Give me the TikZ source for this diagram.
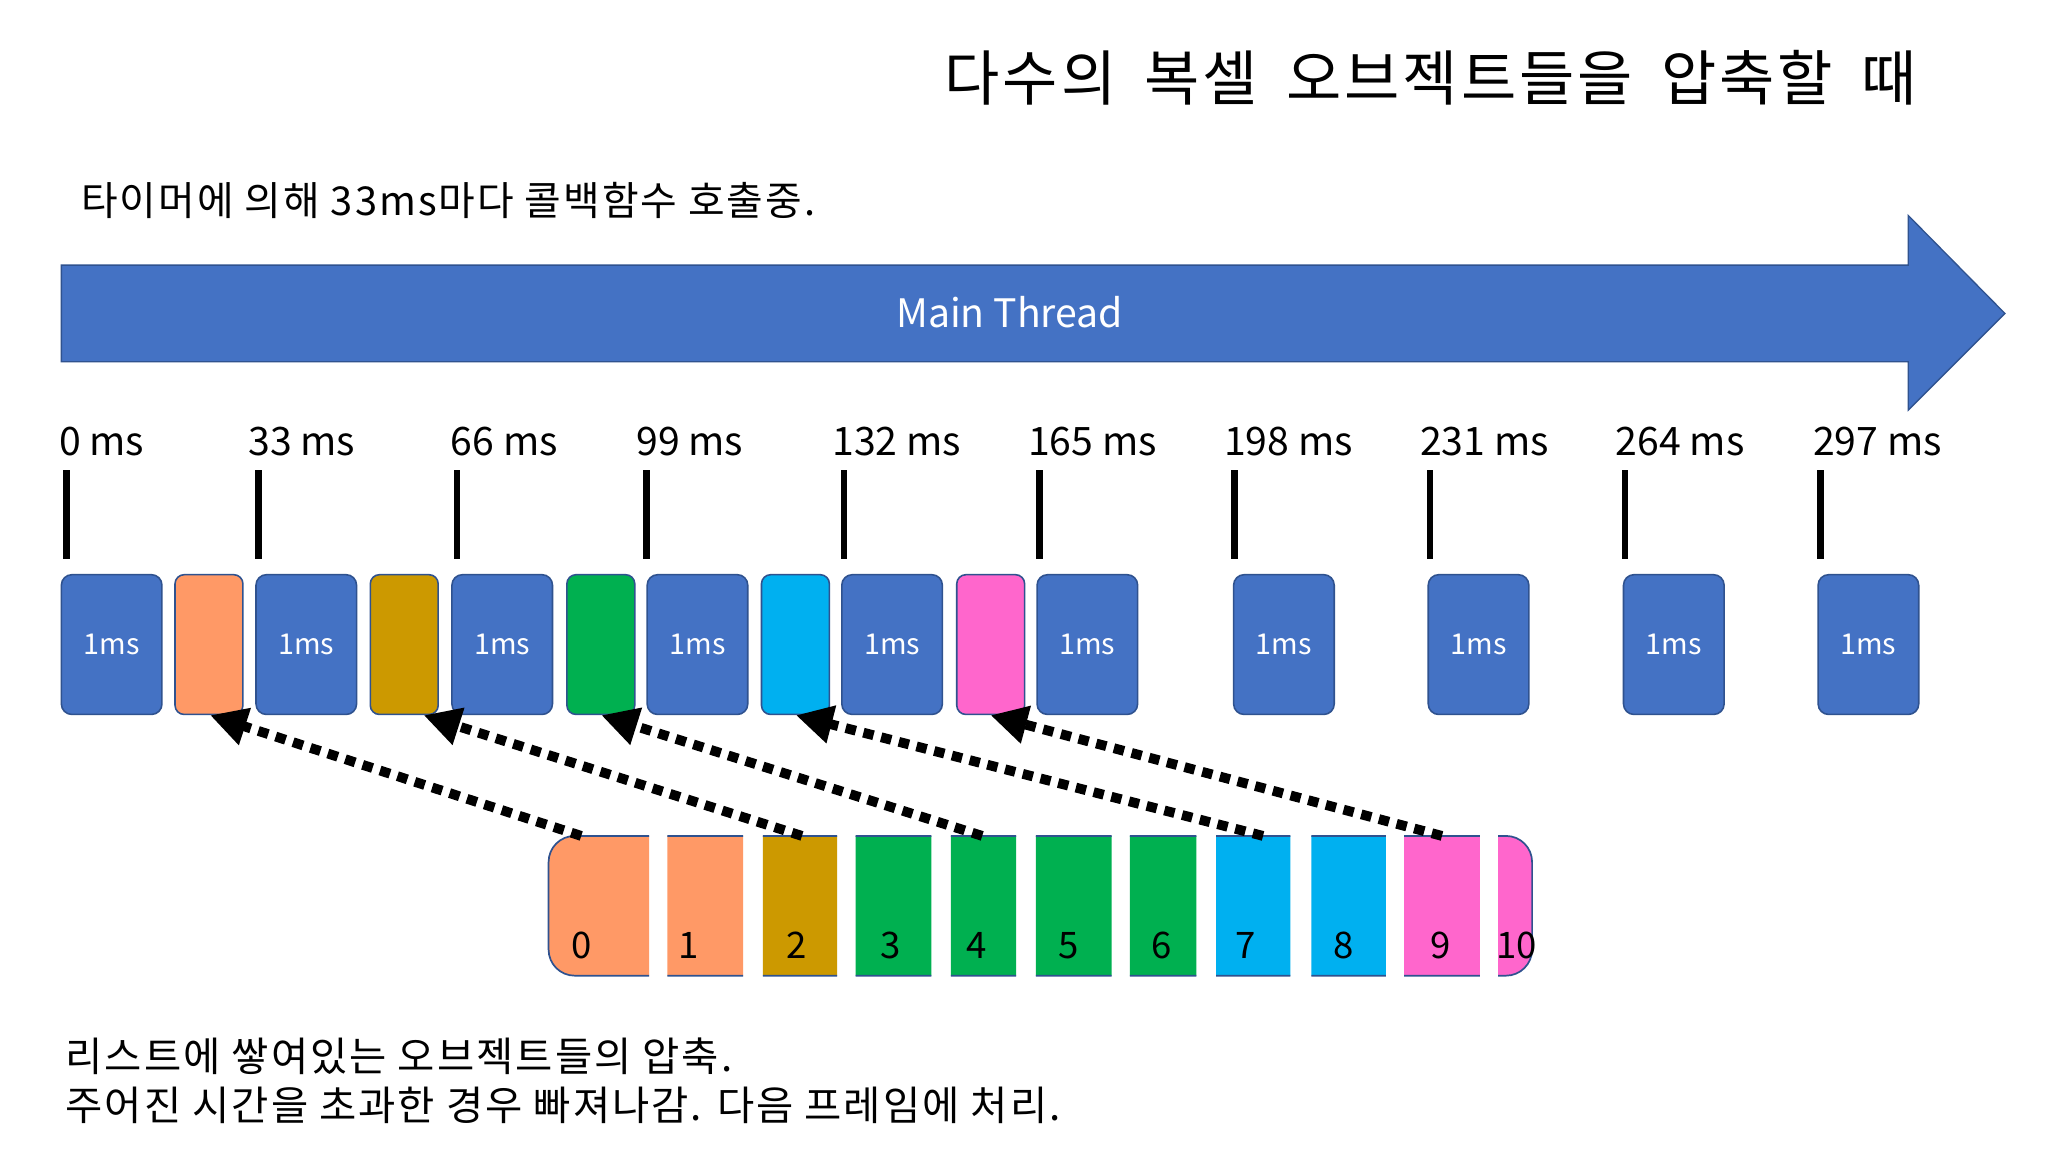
\documentclass[tikz,border=0pt]{standalone}
\usepackage{fontspec}
\setmainfont{Noto Sans CJK KR}
\newfontfamily\krwide[LetterSpace=5]{Noto Sans CJK KR}
\usetikzlibrary{arrows.meta,calc}
\definecolor{tblue}{HTML}{4472C4}
\definecolor{tborder}{HTML}{2F528F}
\definecolor{corange}{HTML}{FF9966}
\definecolor{cgold}{HTML}{CC9900}
\definecolor{cgreen}{HTML}{00B050}
\definecolor{ccyan}{HTML}{00B0F0}
\definecolor{cpink}{HTML}{FF66CC}
\begin{document}
\begin{tikzpicture}[x=1pt,y=-1pt,
  msbox/.style={draw=tborder, line width=1.2pt, fill=tblue, rounded corners=8pt, text=white,
    inner sep=0pt, minimum width=77pt, minimum height=107pt, font=\fontsize{22}{26}\selectfont},
  objbox/.style={draw=tborder, line width=1.2pt, rounded corners=7pt, inner sep=0pt,
    minimum width=52pt, minimum height=107pt},
  tickmark/.style={line width=5pt},
  tlabel/.style={anchor=base west, inner sep=0pt, font=\fontsize{30}{36}\selectfont},
  numlabel/.style={anchor=base, inner sep=0pt, font=\fontsize{28}{34}\selectfont},
  bigtext/.style={anchor=base west, inner sep=0pt, font=\krwide\fontsize{31}{38}\selectfont},
  dotarrow/.style={line width=7.5pt, dash pattern=on 8pt off 6pt, -{Triangle[length=28pt,width=28pt]}},
]
\fill[white] (0,0) rectangle (1568,882);
\useasboundingbox (0,0) rectangle (1568,882);

% title and subtitle
\node[anchor=base west, inner sep=0pt, font=\krwide\fontsize{46}{54}\selectfont] (title) at (723,77)
  {다수의\hspace{9pt} 복셀\hspace{9pt} 오브젝트들을\hspace{9pt} 압축할\hspace{9pt} 때};
\node[anchor=base west, inner sep=0pt, font=\krwide\fontsize{30.5}{36}\selectfont] (sub) at (62,165) {타이머에 의해 33ms마다 콜백함수 호출중.};

% main thread arrow
\draw[draw=tborder, line width=1pt, fill=tblue]
  (47,203) -- (1461,203) -- (1461,165) -- (1535,240) -- (1461,314) -- (1461,277) -- (47,277) -- cycle;
\node[text=white, inner sep=0pt, anchor=base, font=\fontsize{30}{36}\selectfont] (mt) at (773,251) {Main Thread};

% time labels and ticks
\foreach \x/\lab/\lx [count=\i] in {51/0/45, 198/33/190, 350/66/345, 495/99/487, 646/132/637,
    796/165/787, 945/198/937, 1095/231/1087, 1244/264/1237, 1394/297/1388} {
  \node[tlabel] (l\i) at (\lx,349) {\lab\ ms};
  \draw[tickmark] (\x,360) -- (\x,428);
}

% 1ms boxes
\foreach \cx [count=\i] in {85.5,234.5,384.5,534,683,832.5,983,1132,1281.5,1430.5} {
  \node[msbox] (b\i) at (\cx,493.5) {1ms};
}
% coloured object boxes
\node[objbox, fill=corange] (o1) at (160,493.5) {};
\node[objbox, fill=cgold]   (o2) at (309.5,493.5) {};
\node[objbox, fill=cgreen]  (o3) at (460,493.5) {};
\node[objbox, fill=ccyan]   (o4) at (609,493.5) {};
\node[objbox, fill=cpink]   (o5) at (758.5,493.5) {};

% list of objects
\foreach \a/\b/\c in {414/497/corange, 511/569/corange, 584/641/cgold, 655/713/cgreen,
    728/778/cgreen, 793/851/cgreen, 865/916/cgreen, 931/988/ccyan, 1004/1061/ccyan,
    1075/1133/cpink, 1147/1180/cpink} {
  \begin{scope}
    \clip (\a,630) rectangle (\b,757);
    \draw[draw=tborder, line width=1.3pt, fill=\c, rounded corners=20pt] (420,640) rectangle (1173,747);
  \end{scope}
}
\foreach \x [count=\i from 0] in {445.5,527.5,610,682,748,818,889,954,1029,1103,1161} {
  \node[numlabel] (n\i) at (\x,733.5) {\i};
}

% dotted arrows
\coordinate (s1) at (445,640);
\coordinate (s2) at (614,640);
\coordinate (s3) at (752,640);
\coordinate (s4) at (967,640);
\coordinate (s5) at (1104,640);
\draw[dotarrow] (s1) -- ($(o1.south west)+(27.5,0)$);
\draw[dotarrow] (s2) -- ($(o2.south west)+(41.5,0)$);
\draw[dotarrow] (s3) -- ($(o3.south west)+(27,0)$);
\draw[dotarrow] (s4) -- ($(o4.south west)+(27,0)$);
\draw[dotarrow] (s5) -- ($(o5.south west)+(26.5,0)$);

% bottom text
\node[bigtext] (t1) at (50,820) {리스트에 쌓여있는 오브젝트들의 압축.};
\node[bigtext] (t2) at (50,858) {주어진 시간을 초과한 경우 빠져나감. 다음 프레임에 처리.};
\end{tikzpicture}
\end{document}
